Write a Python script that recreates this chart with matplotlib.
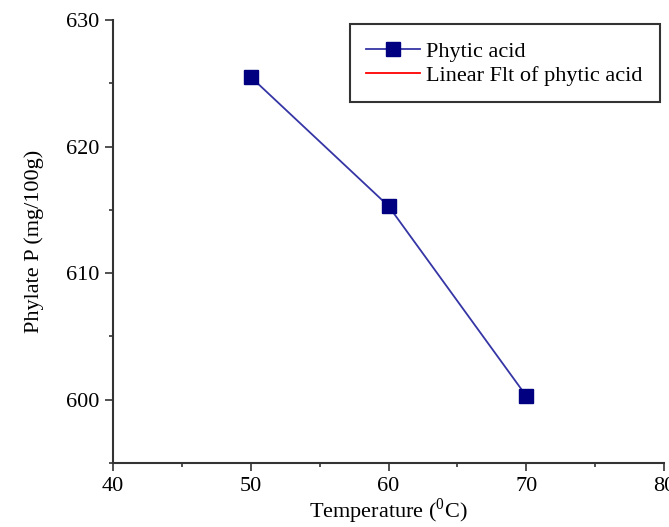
import matplotlib.pyplot as plt
from matplotlib.lines import Line2D
from matplotlib.ticker import MultipleLocator

temperature = [50, 60, 70]
phytic_acid = [625.5, 615.3, 600.3]

x_ticks = [40, 50, 60, 70, 80]
y_ticks = [600, 610, 620, 630]

plt.rcParams["font.family"] = ["Liberation Serif", "DejaVu Serif"]

fig = plt.figure(figsize=(6.69, 5.27), dpi=100)
ax = fig.add_axes([0.169, 0.1214, 0.8235, 0.8406])

ax.plot(temperature, phytic_acid, color="#3535a5", linewidth=1.3,
        marker="s", markersize=9.5, markerfacecolor="#000080",
        markeredgecolor="#000080")

ax.set_xlim(40, 80)
ax.set_ylim(595, 630)
ax.set_xticks(x_ticks)
ax.set_yticks(y_ticks)
ax.xaxis.set_minor_locator(MultipleLocator(5))
ax.yaxis.set_minor_locator(MultipleLocator(5))

for side in ("top", "right"):
    ax.spines[side].set_visible(False)
for side in ("left", "bottom"):
    ax.spines[side].set_color("#333333")
    ax.spines[side].set_linewidth(1.5)

ax.tick_params(which="major", direction="out", length=6, width=1.2,
               color="#333333", labelsize=16, pad=4)
ax.tick_params(which="minor", direction="out", length=3, width=1.2,
               color="#333333")

ax.set_xlabel("Temperature ($^{\\mathregular{0}}$C)", fontsize=16, labelpad=0)
ax.set_ylabel("Phylate P (mg/100g)", fontsize=16, labelpad=16)

handles = [
    Line2D([], [], color="#3535a5", linewidth=1.3, marker="s", markersize=9.5,
           markerfacecolor="#000080", markeredgecolor="#000080"),
    Line2D([], [], color="red", linewidth=1.3),
]
leg = ax.legend(handles, ["Phytic acid", "Linear Flt of phytic acid"],
                loc="upper right", bbox_to_anchor=(1.0, 1.0), fontsize=16,
                fancybox=False, framealpha=1, edgecolor="#333333",
                handlelength=2.4, handletextpad=0.3, borderpad=0.75,
                labelspacing=0.15, borderaxespad=0.2)
leg.get_frame().set_linewidth(1.5)

fig.savefig("out.png", dpi=100)
